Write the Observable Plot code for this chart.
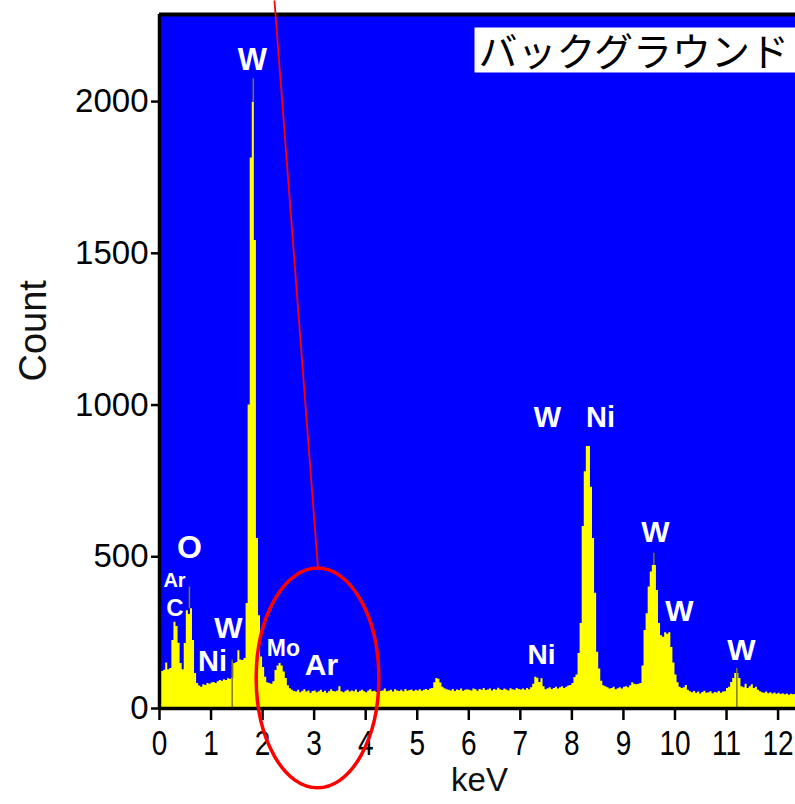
<!DOCTYPE html>
<html>
<head>
<meta charset="utf-8">
<script src="https://cdn.jsdelivr.net/npm/d3@7"></script>
<script src="https://cdn.jsdelivr.net/npm/@observablehq/plot@0.6"></script>
<style>
  html, body { margin: 0; padding: 0; background: #ffffff; }
  #chart { width: 795px; height: 804px; overflow: hidden; }
</style>
</head>
<body>
<div id="chart"></div>
<script>
// ---- data ----
const channelWidth = 0.04; // keV per channel, channel 0 starts at 0 keV
const counts = [
  125,122,126,150,128,132,224,284,270,215,148,128,214,322,310,329,224,115,82,74,70,78,76,82,80,
  84,86,82,88,92,90,95,92,98,96,100,148,152,190,160,158,165,346,1000,1814,1998,1542,560,306,170,
  135,103,85,82,80,88,125,140,148,140,120,99,75,65,60,56,54,60,52,57,62,54,58,50,56,
  58,52,55,60,53,57,50,55,62,56,54,58,72,55,52,57,60,54,58,55,61,53,57,60,55,
  52,58,62,55,57,53,60,56,58,64,55,57,60,54,62,58,56,60,55,63,57,59,61,56,60,
  58,62,57,60,63,59,64,66,85,99,96,84,70,65,62,60,58,63,56,61,59,64,57,60,62,
  60,58,64,62,57,63,60,66,59,61,64,58,63,60,67,62,59,64,61,58,65,62,60,66,63,
  61,64,60,66,62,68,80,103,100,86,98,72,62,65,68,63,66,70,64,68,72,66,70,74,76,
  82,102,110,181,280,600,780,863,863,729,560,380,185,130,90,75,72,68,64,66,70,62,65,68,64,
  70,72,68,75,85,80,78,80,82,140,257,312,400,450,471,471,389,280,240,235,250,245,250,201,150,
  110,85,70,66,68,76,60,55,52,56,50,54,48,53,57,50,52,55,49,53,51,56,50,54,55,
  66,70,86,99,115,115,99,72,68,80,66,72,78,66,70,60,55,52,50,54,49,52,48,51,47,
  50,46,49,45,48,44,47,45,46,45
];
const xTicks = [0,1,2,3,4,5,6,7,8,9,10,11,12];
const yTicks = [0,500,1000,1500,2000];

// element labels (keV, count of label centre)
const labelNames = ["W","W","Ni","W","W","W","Ni","O","Ar","C","W","Ni","Mo","Ar"];
const labelKeV   = [1.804,7.527,8.555,9.622,10.088,11.290,7.410,0.582,0.291,0.301,1.339,1.028,2.405,3.143];
const labelCount = [2137,957,957,581,321,193,175,529,423,331,265,155,198,143];
const labelSize  = [31,29,29,30,30,30,28,32,20,24,30,29,23,30];

// KLM marker lines
const markerKeV   = [0.58, 1.41, 1.82, 9.59, 11.2];
const markerFrom  = [329, 0, 1998, 471, 0];
const markerTo    = [400, 160, 2075, 512, 132];

// annotation
const titleText = ["バックグラウンド"];
const circleCenter = [3.075, 99];   // keV, count
const circleRadius = [1.19, 362];   // keV, count
const pointerFrom = [2.23, 2333];
const pointerTo = [3.075, 461];

// ---- tables built from the arrays ----
const spectrum = counts.map((c, i) => ({keV: i * channelWidth, count: c}));
const labels = labelNames.map((n, i) => ({name: n, keV: labelKeV[i], count: labelCount[i], size: labelSize[i]}));
const markers = markerKeV.map((k, i) => ({keV: k, from: markerFrom[i], to: markerTo[i]}));

const yDomain = [0, 2287];
const xDomain = [0, 12.338];
const ns = "http://www.w3.org/2000/svg";

function calloutEllipse(index, scales) {
  const x = scales.x, y = scales.y;
  const cx = x(circleCenter[0]), cy = y(circleCenter[1]);
  const e = document.createElementNS(ns, "ellipse");
  e.setAttribute("cx", cx);
  e.setAttribute("cy", cy);
  e.setAttribute("rx", x(circleCenter[0] + circleRadius[0]) - cx);
  e.setAttribute("ry", cy - y(circleCenter[1] + circleRadius[1]));
  e.setAttribute("fill", "none");
  e.setAttribute("stroke", "#ff0000");
  e.setAttribute("stroke-width", 3.5);
  return e;
}

const chart = Plot.plot({
  width: 795,
  height: 804,
  marginLeft: 159,
  marginRight: 0,
  marginTop: 14,
  marginBottom: 96,
  style: {fontFamily: "'Liberation Sans', Arial, sans-serif", background: "#ffffff", color: "#000000"},
  x: {domain: xDomain},
  y: {domain: yDomain},
  marks: [
    Plot.frame({fill: "#0000ff", stroke: "none"}),
    Plot.areaY(spectrum, {x: "keV", y: "count", curve: "step-after", fill: "#ffff00", clip: true}),
    Plot.ruleX(markers, {x: "keV", y1: "from", y2: "to", stroke: "#7c7c18", strokeWidth: 1.5}),
    Plot.text(labels, {x: "keV", y: "count", text: "name", fontSize: "size", fill: "#ffffff", fontWeight: "bold"}),
    Plot.ruleY([yDomain[1]], {stroke: "#000000", strokeWidth: 4}),
    Plot.ruleY([0], {stroke: "#000000", strokeWidth: 3.5}),
    Plot.ruleX([0], {stroke: "#000000", strokeWidth: 3.5}),
    Plot.axisX({ticks: xTicks, tickFormat: "d", tickSize: 12, tickPadding: 10, fontSize: 28, strokeWidth: 2.5, label: null}),
    Plot.axisY({ticks: yTicks, tickFormat: "d", tickSize: 8, tickPadding: 3, fontSize: 33, strokeWidth: 2.5, label: null}),
    Plot.text(["Count"], {text: d => d, frameAnchor: "left", dx: -126, dy: 20, rotate: -90, fontSize: 38, fill: "#111111"}),
    Plot.text(["keV"], {text: d => d, frameAnchor: "bottom", dx: 2, dy: 82, fontSize: 33, fill: "#111111"}),
    Plot.text(titleText, {text: d => d, frameAnchor: "top-left", dx: 319, dy: 24, textAnchor: "start", fontSize: 39,
      fontFamily: "'Noto Sans CJK JP', sans-serif", fill: "#000000"}),
    Plot.link([0], {x1: () => pointerFrom[0], y1: () => pointerFrom[1], x2: () => pointerTo[0], y2: () => pointerTo[1],
      stroke: "#ff0000", strokeWidth: 1.8}),
    calloutEllipse
  ]
});

document.getElementById("chart").appendChild(chart);

// stretch x tick labels vertically as in the reference
chart.querySelectorAll('g[aria-label="x-axis tick label"] text').forEach(t => {
  const tr = t.getAttribute("transform");
  if (tr) t.setAttribute("transform", tr + " scale(1,1.22)");
});

// white box behind the title
const titleNode = Array.from(chart.querySelectorAll("text")).find(t => t.textContent === titleText[0]);
if (titleNode) {
  const box = document.createElementNS(ns, "rect");
  box.setAttribute("transform", titleNode.getAttribute("transform") || "");
  box.setAttribute("x", -4);
  box.setAttribute("y", -11);
  box.setAttribute("width", 400);
  box.setAttribute("height", 45);
  box.setAttribute("fill", "#ffffff");
  titleNode.parentNode.insertBefore(box, titleNode);
}
</script>
</body>
</html>
